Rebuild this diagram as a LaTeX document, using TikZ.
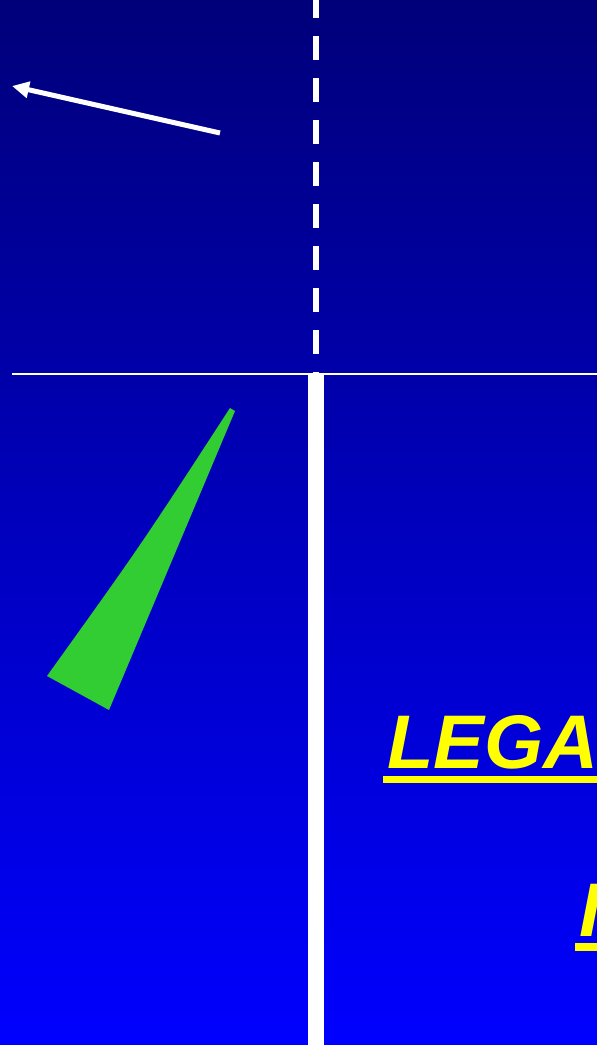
\documentclass[tikz,border=0pt]{standalone}
\usepackage{fontspec}
\setmainfont{Liberation Sans}
\usetikzlibrary{arrows.meta}
\definecolor{bgtop}{RGB}{0,0,122}
\definecolor{bgbot}{RGB}{0,0,255}
\definecolor{leafgreen}{RGB}{50,205,50}
\definecolor{titleyellow}{RGB}{255,255,0}
\tikzset{
  titletext/.style={inner sep=0pt, text=titleyellow, font=\fontsize{76}{80}\selectfont\bfseries\itshape},
  underbar/.style={fill=titleyellow, draw=none},
  whiteline/.style={draw=white},
}
\begin{document}
\begin{tikzpicture}[x=1pt,y=-1pt]
\useasboundingbox (0,0) rectangle (597,1045);
\clip (0,0) rectangle (597,1045);
\shade[top color=bgtop, bottom color=bgbot, shading angle=0] (0,0) rectangle (597,1045);
% dashed vertical line (top half)
\coordinate (dtop) at (316,-6);
\coordinate (dbot) at (316,373);
\draw[whiteline, line width=6pt, dash pattern=on 24pt off 18pt] (dtop) -- (dbot);
% horizontal line
\coordinate (hl) at (12,374);
\coordinate (hr) at (597,374);
\draw[whiteline, line width=2pt] (hl) -- (hr);
% thick vertical bar (bottom half)
\coordinate (vtop) at (316,375);
\coordinate (vbot) at (316,1046);
\draw[whiteline, line width=16pt] (vtop) -- (vbot);
% arrow
\coordinate (astart) at (220,133);
\coordinate (aend) at (12,86);
\draw[whiteline, line width=5pt, -{Triangle[length=17pt,width=16pt]}] (astart) -- (aend);
% green wedge
\fill[leafgreen] (47,676) -- (109,710) -- (235,411) -- (230,408) .. controls (141,545) .. (47,676) -- cycle;
% title texts
\node[titletext, anchor=base west] (t1) at (387,768) {LEGA};
\fill[underbar] (383,776) rectangle (600,783);
\node[titletext, anchor=base west] (t2) at (579,936) {I};
\fill[underbar] (575,943) rectangle (600,951);
\end{tikzpicture}
\end{document}
